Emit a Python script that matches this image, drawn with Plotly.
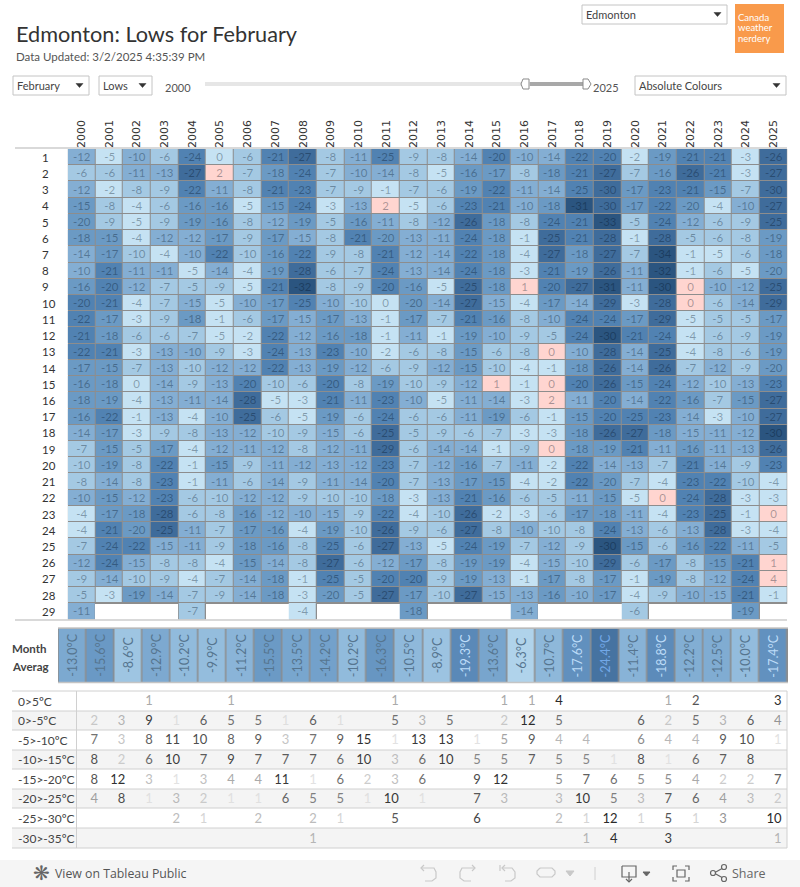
import plotly.graph_objects as go

W, H = 800, 887
YEARS = list(range(2000, 2026))
DAYS = list(range(1, 30))
N = None
LOWS = [
[-12,-4.6,-10,-6,-24,-0.4,-6,-21,-27,-8,-11,-24.6,-9,-8,-14,-20,-10,-14,-22,-20,-2,-19,-21,-21,-3,-26],
[-6,-6,-11,-13,-27,2,-7,-18,-24,-7,-10,-14,-8,-4.6,-16,-17,-8,-18,-21,-27,-7,-16,-26,-21,-3,-27],
[-12,-2,-8,-9,-22,-11,-8,-21,-23,-7,-9,-1,-7,-6,-19,-22,-11,-14,-24.6,-29.6,-17,-23,-21,-15,-7,-29.6],
[-15,-8,-4,-6,-16,-16,-4.6,-15,-24,-3,-13,2,-4.6,-6,-23,-21,-10,-18,-31,-29.6,-17,-22,-19.6,-4,-10,-27],
[-19.6,-9,-4.6,-9,-19,-16,-8,-12,-19,-5,-16,-11,-8,-12,-26,-18,-8,-24,-21,-33,-5,-24,-12,-6,-9,-25],
[-18,-15,-4,-12,-12,-17,-9,-17,-14.6,-8,-21,-19.6,-13,-11,-24,-18,-1,-25,-21,-28,-1,-28,-5,-6,-8,-19],
[-14,-17,-9.6,-4,-10,-22,-9.6,-16,-22,-9,-8,-21,-12,-14,-22,-18,-4,-27,-18,-27,-7,-34,-1,-4.6,-6,-18],
[-10,-21,-11,-11,-4.6,-14,-4,-19,-28,-6,-7,-24,-13,-14,-24,-18,-3,-21,-19,-26,-11,-32,-1,-6,-4.6,-19.6],
[-16,-20,-12,-7,-5,-9,-4.6,-21,-32,-8,-9,-20,-16,-4.6,-25,-18,1,-20,-27,-31,-11,-30,0,-10,-12,-25],
[-20,-21,-4,-7,-14.6,-4.6,-10,-17,-24.6,-10,-9.6,-0.4,-19.6,-14,-27,-14.6,-4,-17,-14,-29,-3,-28,0,-6,-14,-29],
[-22,-17,-3,-9,-18,-1,-6,-17,-14.6,-17,-13,-1,-17,-7,-21,-16,-8,-10,-24,-24,-17,-29,-4.6,-5,-5,-17],
[-21,-18,-6,-6,-7,-4.6,-2,-22,-12,-16,-18,-1,-11,-1,-19,-10,-9,-5,-24,-30,-21,-24,-4,-6,-9,-19],
[-22,-21,-3,-13,-10,-9,-3,-24,-13,-23,-10,-2,-6,-8,-15,-6,-8,0,-10,-28,-14,-25,-4,-8,-6,-19],
[-17,-15,-7,-13,-9.6,-12,-12,-22,-13,-19,-12,-6,-9,-12,-15,-9.6,-4,-1,-18,-26,-14,-26,-7,-12,-9,-19.6],
[-16,-18,-0.4,-14,-9,-13,-20,-9.6,-6,-20,-8,-19,-9.6,-9,-12,1,-1,0,-20,-26,-15,-24,-12,-9.6,-13,-23],
[-18,-19,-4,-13,-11,-14,-28,-4.6,-3,-21,-11,-23,-10,-4.6,-11,-14,-3,2,-11,-20,-14,-22,-16,-7,-15,-27],
[-16,-22,-1,-13,-4,-10,-25,-6,-4.6,-19,-6,-24,-6,-6,-11,-19,-6,-1,-15,-20,-24.6,-23,-14,-3,-10,-27],
[-14,-17,-3,-9,-8,-13,-12,-9.6,-9,-14.6,-6,-25,-5,-9,-6,-7,-3,-3,-18,-26,-27,-18,-14.6,-11,-12,-30],
[-7,-15,-5,-17,-4,-12,-11,-12,-8,-12,-11,-29,-6,-14,-14,-1,-9,0,-18,-19,-21,-11,-16,-11,-13,-26],
[-9.6,-19,-8,-22,-1,-15,-9,-11,-12,-13,-12,-23,-7,-12,-16,-7,-11,-2,-22,-14,-13,-7,-21,-14,-9,-23],
[-8,-14,-8,-23,-1,-11,-6,-14,-9,-11,-14,-20,-7,-13,-17,-15,-4,-2,-22,-19.6,-7,-4,-23,-22,-9.6,-4],
[-10,-15,-12,-23,-6,-9.6,-12,-12,-9,-9.6,-9.6,-18,-3,-13,-21,-16,-6,-5,-11,-15,-4.6,0,-24,-28,-3,-3],
[-4,-17,-18,-28,-6,-8,-16,-12,-10,-14.6,-9,-22,-4,-9.6,-26,-2,-3,-6,-17,-18,-11,-4,-23,-25,-1,0],
[-4,-21,-19.6,-25,-11,-7,-17,-16,-4,-19,-9.6,-26,-9,-6,-27,-8,-10,-9.6,-8,-24,-13,-6,-13,-28,-3,-4],
[-7,-24,-22,-14.6,-11,-9,-18,-16,-8,-24.6,-6,-27,-13,-4.6,-24,-19,-7,-12,-9,-30,-15,-6,-16,-22,-11,-5],
[-12,-24,-14.6,-8,-8,-4,-15,-14,-8,-27,-6,-12,-17,-8,-19,-19,-4,-14.6,-9.6,-29,-6,-17,-8,-15,-21,1],
[-9,-14,-9.6,-9,-4,-7,-14,-18,-1,-24.6,-5,-20,-20,-9,-19,-13,-1,-17,-8,-17,-1,-19,-8,-12,-24,4],
[-5,-3,-19,-14,-7,-9,-14,-18,-3,-19.6,-5,-27,-17,-9.6,-27,-14.6,-13,-16,-10,-17,-4,-9,-10,-14.6,-21,-1],
[-11,N,N,N,-7,N,N,N,-4,N,N,N,-18,N,N,N,-14,N,N,N,-6,N,N,N,-19,N],
]
MONTH_AVG = [-13.0,-15.6,-8.6,-12.9,-10.2,-9.9,-11.2,-15.5,-13.5,-14.2,-10.2,-16.3,-10.5,-8.9,-19.3,-13.6,-6.3,-10.7,-17.6,-24.4,-11.4,-18.8,-12.2,-12.5,-10.0,-17.4]
BAND_LABELS = ["0>5ºC","0>-5ºC","-5>-10ºC","-10>-15ºC","-15>-20ºC","-20>-25ºC","-25>-30ºC","-30>-35ºC"]
COUNTS = [
[N,N,1,N,N,1,N,N,N,N,N,1,N,N,N,1,1,4,N,N,N,1,2,N,N,3],
[2,3,9,1,6,5,5,1,6,1,N,5,3,5,N,2,12,5,N,N,6,2,5,3,6,4],
[7,3,8,11,10,8,9,3,7,9,15,1,13,13,1,5,9,4,4,N,6,4,4,9,10,1],
[8,2,6,10,7,9,7,7,7,6,10,3,6,10,5,5,7,5,5,1,8,1,6,7,8,N],
[8,12,3,1,3,4,4,11,1,6,2,3,6,N,9,12,N,5,7,6,5,5,4,2,2,7],
[4,8,1,3,2,1,1,6,5,5,1,10,1,N,7,3,N,3,10,5,3,7,6,4,3,2],
[N,N,N,2,1,N,2,N,2,1,N,5,N,N,6,N,N,2,1,12,1,5,1,3,N,10],
[N,N,N,N,N,N,N,N,1,N,N,N,N,N,N,N,N,N,1,4,N,3,N,N,N,1],
]
BIN_EDGES = [-34.9,-29.9,-24.9,-19.9,-14.9,-9.9,-4.9,-0.1,5.1]
BIN_COLOURS = ["#2b5580","#3f6c9b","#5182b2","#6b9ac4","#84aed3","#a4c9e3","#c5e2f3","#ffd5d0"]
AVG_STOPS = [(-25,"#44709e"),(-19,"#5b8ab9"),(-15,"#6d9cc7"),(-10,"#93bcdd"),(-6,"#b2d5ec")]
ROW_WEIGHT = [4, 1.2, 0.85, 1.05, 1, 1.1, 1.6, 3.5]
INK_LEVEL = [1, 2, 3, 4, 5, 6, 7, 8, 10, 12, 15]
INK_GREY = [226, 204, 192, 170, 142, 112, 96, 85, 64, 48, 42]
FONT = "Lato"
INK = "#333333"

def pxx(x): return x / W
def pxy(y): return 1 - y / H
def xdom(a, b): return [a / W, b / W]
def ydom(a, b): return [1 - b / H, 1 - a / H]

def count_ink(level):
    level = min(max(level, INK_LEVEL[0]), INK_LEVEL[-1])
    for i in range(len(INK_LEVEL) - 1):
        if level <= INK_LEVEL[i + 1]:
            t = (level - INK_LEVEL[i]) / (INK_LEVEL[i + 1] - INK_LEVEL[i])
            g = round(INK_GREY[i] + t * (INK_GREY[i + 1] - INK_GREY[i]))
            return f"rgb({g},{g},{g})"
    return "rgb(42,42,42)"

scale = []
span = BIN_EDGES[-1] - BIN_EDGES[0]
for i, c in enumerate(BIN_COLOURS):
    scale.append([(BIN_EDGES[i] - BIN_EDGES[0]) / span, c])
    scale.append([(BIN_EDGES[i + 1] - BIN_EDGES[0]) / span, c])

fig = go.Figure()
mask = [[None if v is None else 1 for v in row] for row in LOWS]
fig.add_trace(go.Heatmap(x=YEARS, y=DAYS, z=mask, colorscale=[[0, "#8d8d8d"], [1, "#8d8d8d"]],
                         showscale=False, hoverinfo="skip"))
labels = [["" if v is None else str(round(v)) for v in row] for row in LOWS]
fig.add_trace(go.Heatmap(x=YEARS, y=DAYS, z=LOWS, text=labels, texttemplate="%{text}",
                         textfont=dict(family=FONT, size=11.5, color="rgba(0,15,35,0.34)"),
                         colorscale=scale, zmin=BIN_EDGES[0], zmax=BIN_EDGES[-1], showscale=False,
                         xgap=1, ygap=1, hoverinfo="skip"))
amin, amax = AVG_STOPS[0][0], AVG_STOPS[-1][0]
fig.add_trace(go.Heatmap(x=YEARS, y=[0], z=[MONTH_AVG], xaxis="x2", yaxis="y2", xgap=1.5,
                         colorscale=[[(v - amin) / (amax - amin), c] for v, c in AVG_STOPS],
                         zmin=amin, zmax=amax, showscale=False, hoverinfo="skip"))
tx, ty, tt, tc = [], [], [], []
for r, row in enumerate(COUNTS):
    for c, v in enumerate(row):
        if v is not None:
            tx.append(YEARS[c]); ty.append(r); tt.append(str(v)); tc.append(count_ink(v * ROW_WEIGHT[r]))
fig.add_trace(go.Scatter(x=tx, y=ty, text=tt, mode="text", textposition="middle left", xaxis="x3", yaxis="y3",
                         textfont=dict(family=FONT, size=13, color=tc), hoverinfo="skip", showlegend=False))

shapes, ann = [], []
def rect(x0, y0, x1, y1, fill="rgba(0,0,0,0)", line=None, w=1, layer="below"):
    shapes.append(dict(type="rect", xref="paper", yref="paper", x0=pxx(x0), x1=pxx(x1), y0=pxy(y0), y1=pxy(y1),
                       fillcolor=fill, line=dict(color=line or "rgba(0,0,0,0)", width=w if line else 0), layer=layer))
def hline(x0, x1, y, c="#cfcfcf", w=1):
    shapes.append(dict(type="line", xref="paper", yref="paper", x0=pxx(x0), x1=pxx(x1), y0=pxy(y), y1=pxy(y),
                       line=dict(color=c, width=w), layer="above"))
def vline(x, y0, y1, c="#cfcfcf", w=1):
    shapes.append(dict(type="line", xref="paper", yref="paper", x0=pxx(x), x1=pxx(x), y0=pxy(y0), y1=pxy(y1),
                       line=dict(color=c, width=w), layer="above"))
def text(x, y, s, size=11, color=INK, anchor="left", family=FONT, angle=0):
    ann.append(dict(xref="paper", yref="paper", x=pxx(x - 2), y=pxy(y), text=s, showarrow=False, xanchor=anchor,
                    yanchor="middle", align="left", textangle=angle, font=dict(family=family, size=size, color=color)))
def path(points, c="#b5b5b5", w=1.2, fill="rgba(0,0,0,0)", close=False):
    d = "M" + " L".join(f"{pxx(x):.5f},{pxy(y):.5f}" for x, y in points) + (" Z" if close else "")
    shapes.append(dict(type="path", xref="paper", yref="paper", path=d, line=dict(color=c, width=w),
                       fillcolor=fill, layer="above"))
def dropdown(x0, x1, y0, y1, s):
    rect(x0, y0, x1, y1, "#ffffff", "#c4c4c4", 1)
    text(x0 + 4, (y0 + y1) / 2, s, 11, "#444444")
    path([(x1 - 13, (y0 + y1) / 2 - 2), (x1 - 6, (y0 + y1) / 2 - 2), (x1 - 9.5, (y0 + y1) / 2 + 2)], "#333333", 0.5, "#333333", True)

# header
text(16, 34, "Edmonton: Lows for February", 21.7, "#333333")
text(16, 56, "Data Updated: 3/2/2025 4:35:39 PM", 11.5, "#555555")
dropdown(582, 727, 5, 24, "Edmonton")
rect(735, 4, 784, 53, "#f99a4b")
text(738, 17, "Canada", 9.5, "#ffffff"); text(738, 28, "weather", 9.5, "#ffffff"); text(738, 39, "nerdery", 9.5, "#ffffff")
dropdown(13, 89, 76, 95, "February")
dropdown(99, 152, 76, 95, "Lows")
dropdown(635, 786, 76, 95, "Absolute Colours")
text(165, 87, "2000", 11, "#555555")
text(593, 87, "2025", 11, "#555555")
rect(205, 82, 530, 86, "#e6e6e6")
rect(530, 82, 583, 86, "#a8a8a8")
path([(526, 79), (523, 79), (521, 84), (523, 89), (529, 89), (529, 79), (526, 79)], "#8a8a8a", 1, "#ffffff", True)
path([(583, 79), (588, 79), (591, 84), (588, 89), (583, 89)], "#8a8a8a", 1, "#ffffff", True)
hline(15, 787, 148, "#cccccc", 1.5)
hline(15, 787, 620, "#cccccc", 1.5)

# day labels
for d in DAYS:
    ann.append(dict(xref="paper", yref="y", x=pxx(40), y=d, text=str(d), showarrow=False, xanchor="left",
                    yanchor="middle", font=dict(family=FONT, size=11.5, color=INK)))

# month averages
text(12, 648, "<b>Month</b>", 11.5, "#444444")
text(12, 666, "<b>Averag</b>", 11.5, "#444444")
hline(58, 788, 628, "#c4c4c4", 1.5)
hline(58, 788, 682.5, "#c4c4c4", 1.5)
rect(58, 628, 788, 682.5, "#8d8d8d")
def avg_ink(v):
    if v < -20: return "#72a8e8"
    if v < -17: return "#bddcf8"
    return "#56758f"
for yr, v in zip(YEARS, MONTH_AVG):
    ann.append(dict(xref="x2", yref="y2", x=yr, y=0, text=f"{v:.1f}°C", textangle=-90, showarrow=False,
                    font=dict(family=FONT, size=12.5, color=avg_ink(v))))

# count table
bands = [(691, 711), (711, 730), (730, 750), (750, 769), (769, 789), (789, 808), (808, 828), (828, 848)]
for i, (a, b) in enumerate(bands):
    if i % 2:
        rect(12, a, 787, b, "#f4f4f4")
    text(18, (a + b) / 2, BAND_LABELS[i], 12, "#444444")
    if i:
        hline(12, 787, a, "#d0d0d0", 1)
hline(12, 787, 691, "#d0d0d0", 1)
hline(12, 787, 848, "#d0d0d0", 1)
vline(76.5, 691, 848, "#d0d0d0", 1)
vline(787, 691, 848, "#d0d0d0", 1)

# footer bar
rect(0, 860, 800, 887, "#f5f5f5")
text(33, 873, "❋", 20, "#666666", family="DejaVu Sans")
text(55, 873, "View on Tableau Public", 12.3, "#555555", family="Open Sans")
text(732, 873, "Share", 12.5, "#666666", family="Open Sans")
g = "#c9c9c9"
path([(421, 868), (434, 868), (436, 872), (436, 878), (432, 881), (425, 881)], g)
path([(424, 865), (421, 868), (424, 871)], g)
path([(475, 868), (462, 868), (460, 872), (460, 878), (464, 881), (471, 881)], g)
path([(472, 865), (475, 868), (472, 871)], g)
path([(502, 868), (512, 868), (515, 872), (515, 878), (511, 881), (505, 881)], g)
path([(505, 865), (502, 868), (505, 871)], g)
vline(500, 865, 871, g, 1.2)
path([(540, 868), (552, 868), (555, 871), (555, 874), (552, 877), (540, 877), (537, 874), (537, 871), (540, 868)], g)
path([(566, 871), (574, 871), (570, 876)], g, 1, g, True)
vline(595, 867, 880, "#d0d0d0", 1)
d = "#666666"
path([(622, 866), (636, 866), (636, 877), (622, 877), (622, 866)], d)
vline(629, 872, 882, d, 1.2)
path([(626, 879), (629, 882), (632, 879)], d)
path([(643, 872), (650, 872), (646.5, 876)], d, 1, d, True)
for a, b, c_ in [(673, 866, (1, 1)), (689, 866, (-1, 1)), (673, 881, (1, -1)), (689, 881, (-1, -1))]:
    path([(a + 4 * c_[0], b), (a, b), (a, b + 4 * c_[1])], d)
rect(677, 870, 685, 877, "rgba(0,0,0,0)", d, 1.2, "above")
path([(714, 873), (723, 868)], d); path([(714, 873), (723, 878)], d)
for cx, cy in [(713, 873), (724, 867), (724, 879)]:
    shapes.append(dict(type="circle", xref="paper", yref="paper", x0=pxx(cx - 2.5), x1=pxx(cx + 2.5),
                       y0=pxy(cy + 2.5), y1=pxy(cy - 2.5), line=dict(color=d, width=1.2), fillcolor="#f5f5f5", layer="above"))

fig.update_layout(
    width=W, height=H, margin=dict(l=0, r=0, t=0, b=0), paper_bgcolor="#ffffff", plot_bgcolor="rgba(0,0,0,0)",
    showlegend=False, shapes=shapes, annotations=ann,
    xaxis=dict(domain=xdom(67.7, 787.3), range=[1999.5, 2025.5], side="top", tickmode="array", tickvals=YEARS,
               ticktext=[str(y) for y in YEARS], tickangle=-90, ticks="", showgrid=False, zeroline=False, showline=False,
               tickfont=dict(family="DejaVu Sans", size=11, color=INK), fixedrange=True, anchor="y"),
    yaxis=dict(domain=ydom(149, 619.5), range=[29.5, 0.5], showticklabels=False, ticks="", showgrid=False,
               zeroline=False, fixedrange=True, anchor="x"),
    xaxis2=dict(domain=xdom(58.5, 787.5), range=[1999.5, 2025.5], visible=False, fixedrange=True, anchor="y2"),
    yaxis2=dict(domain=ydom(628.5, 682), range=[-0.5, 0.5], visible=False, fixedrange=True, anchor="x2"),
    xaxis3=dict(domain=xdom(76, 787), range=[1999.195, 2025.2], visible=False, fixedrange=True, anchor="y3"),
    yaxis3=dict(domain=ydom(692.2, 849.2), range=[7.5, -0.5], visible=False, fixedrange=True, anchor="x3"),
)
fig.write_html("out.html", config=dict(displayModeBar=False),
               post_script="document.body.style.margin='0';document.body.style.overflow='hidden';")
